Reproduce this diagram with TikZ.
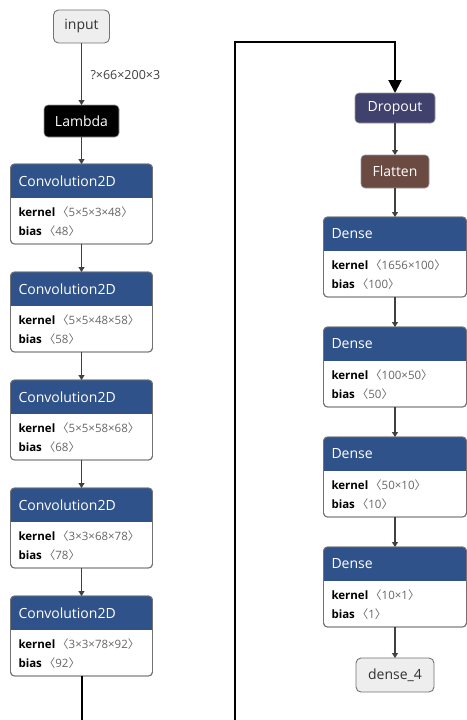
\documentclass[tikz,border=0pt]{standalone}
\usepackage{fontspec}
\setmainfont{Open Sans}
\newfontfamily\cjkf{Noto Sans CJK SC}
\usetikzlibrary{arrows.meta}
\definecolor{hdrblue}{HTML}{30528A}
\definecolor{dropcol}{HTML}{41416E}
\definecolor{flatcol}{HTML}{6B4A42}
\definecolor{termfill}{HTML}{EEEEEE}
\definecolor{valgray}{HTML}{666666}
\newcommand\lbr{{\cjkf 〈}}
\newcommand\rbr{{\cjkf 〉}}
\tikzset{
  every node/.style={inner sep=0pt, outer sep=0pt},
  term/.style={draw=black!55, fill=termfill, rounded corners=5pt, line width=0.9pt, font=\fontsize{14}{16}\selectfont, text=black!80},
  solidbox/.style={rounded corners=4pt, draw=black!40, line width=0.6pt, text=white, font=\fontsize{14}{16}\selectfont},
  layerbox/.style={draw=black!55, fill=white, rounded corners=4pt, line width=0.9pt, minimum height=80pt},
  hdrtext/.style={anchor=west, text=white, font=\fontsize{14}{16}\selectfont},
  bodytext/.style={anchor=west, text=black, font=\fontsize{11.5}{13}\selectfont},
  edge/.style={draw=black!75, line width=1.4pt, dash pattern=on 1.5pt off 0.5pt, -{Triangle[width=6pt,length=5pt]}},
  longedge/.style={draw=black, line width=2pt},
  lbl/.style={anchor=west, text=black!75, font=\fontsize{12.5}{14}\selectfont}
}
\newcommand\mylayer[7]{%
  \node[layerbox, minimum width=#4] (#1) at (#2,#3+40) {};
  \begin{scope}
    \clip[rounded corners=4pt] (#1.north west) rectangle (#1.south east);
    \fill[hdrblue] (#1.north west) rectangle ([yshift=-34pt]#1.north east);
  \end{scope}
  \draw[draw=black!55, line width=0.9pt, rounded corners=4pt] (#1.north west) rectangle (#1.south east);
  \node[hdrtext] (#1-t) at ([xshift=8pt,yshift=-17pt]#1.north west) {#5};
  \node[bodytext] (#1-k) at ([xshift=8pt,yshift=-48pt]#1.north west) {\textbf{kernel}\,{\color{valgray}\lbr#6\rbr}};
  \node[bodytext] (#1-b) at ([xshift=8pt,yshift=-67pt]#1.north west) {\textbf{bias}\,{\color{valgray}\lbr#7\rbr}};
}
\begin{document}
\begin{tikzpicture}[x=1pt,y=-1pt]
\useasboundingbox[fill=white] (0,0) rectangle (466,720);
% left column
\node[term, minimum width=56pt, minimum height=33pt] (input) at (81.5,26.5) {input};
\node[solidbox, fill=black, minimum width=75pt, minimum height=32pt] (lambda) at (81.5,121) {Lambda};
\mylayer{c1}{81.5}{164}{142pt}{Convolution2D}{5×5×3×48}{48}
\mylayer{c2}{81.5}{272}{142pt}{Convolution2D}{5×5×48×58}{58}
\mylayer{c3}{81.5}{380}{142pt}{Convolution2D}{5×5×58×68}{68}
\mylayer{c4}{81.5}{488}{142pt}{Convolution2D}{3×3×68×78}{78}
\mylayer{c5}{81.5}{596}{142pt}{Convolution2D}{3×3×78×92}{92}
% right column
\node[solidbox, fill=dropcol, minimum width=80pt, minimum height=30pt] (drop) at (395,108) {Dropout};
\node[solidbox, fill=flatcol, minimum width=68pt, minimum height=33pt] (flat) at (395,171.5) {Flatten};
\mylayer{d1}{395}{217}{143pt}{Dense}{1656×100}{100}
\mylayer{d2}{395}{327}{143pt}{Dense}{100×50}{50}
\mylayer{d3}{395}{437}{143pt}{Dense}{50×10}{10}
\mylayer{d4}{395}{547}{143pt}{Dense}{10×1}{1}
\node[term, minimum width=78pt, minimum height=34pt] (out) at (395,675) {dense\_4};
% edges
\draw[edge] (input) -- node[lbl, xshift=9pt, yshift=-1pt] (shape) {?×66×200×3} (lambda);
\draw[edge] (lambda) -- (c1);
\draw[edge] (c1) -- (c2);
\draw[edge] (c2) -- (c3);
\draw[edge] (c3) -- (c4);
\draw[edge] (c4) -- (c5);
\draw[edge] (drop) -- (flat);
\draw[edge] (flat) -- (d1);
\draw[edge] (d1) -- (d2);
\draw[edge] (d2) -- (d3);
\draw[edge] (d3) -- (d4);
\draw[edge] (d4) -- (out);
% long connector
\coordinate (cut1) at (81.5,721);
\coordinate (cut2) at (235,721);
\coordinate (turn) at (235,42);
\draw[longedge] (c5) -- (cut1);
\draw[longedge, -{Triangle[width=13pt,length=13pt]}] (cut2) -- (turn) -| (drop.north);
\end{tikzpicture}
\end{document}
